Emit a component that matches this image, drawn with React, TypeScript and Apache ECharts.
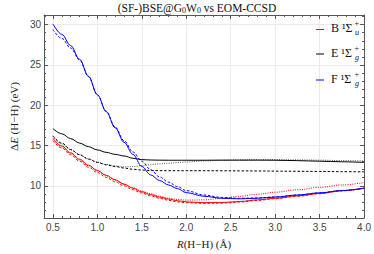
import React, { useEffect, useRef } from "react";
import * as echarts from "echarts";

// bond length grid (Å)
const R = [0.5, 0.6, 0.7, 0.8, 0.9, 1.0, 1.1, 1.2, 1.3, 1.4, 1.5, 1.6, 1.7, 1.8, 1.9, 2.0, 2.2, 2.4, 2.6, 2.8, 3.0, 3.25, 3.5, 3.75, 4.0];

// B 1Σu+
const B_solid = [15.9, 14.95, 14.1, 13.3, 12.55, 11.9, 11.3, 10.75, 10.2, 9.7, 9.25, 8.9, 8.6, 8.35, 8.15, 8.0, 7.9, 7.92, 8.05, 8.25, 8.45, 8.75, 9.05, 9.4, 9.7];
const B_dashed = [15.6, 14.7, 13.85, 13.05, 12.3, 11.65, 11.05, 10.5, 10.0, 9.5, 9.1, 8.75, 8.45, 8.2, 8.0, 7.9, 7.82, 7.85, 7.98, 8.18, 8.4, 8.7, 9.02, 9.37, 9.7];
const B_dotted = [15.8, 14.85, 14.0, 13.2, 12.5, 11.85, 11.25, 10.7, 10.2, 9.75, 9.35, 9.0, 8.7, 8.45, 8.3, 8.22, 8.25, 8.45, 8.7, 8.95, 9.2, 9.5, 9.8, 10.1, 10.4];

// E 1Σg+
const E_solid = [17.1, 16.45, 15.85, 15.3, 14.85, 14.45, 14.15, 13.9, 13.7, 13.42, 13.25, 13.2, 13.18, 13.17, 13.17, 13.17, 13.17, 13.18, 13.18, 13.18, 13.17, 13.12, 13.05, 12.98, 12.9];
const E_dashed = [16.2, 15.3, 14.5, 13.85, 13.3, 12.9, 12.6, 12.4, 12.2, 12.05, 11.95, 11.9, 11.88, 11.87, 11.87, 11.87, 11.87, 11.86, 11.85, 11.84, 11.82, 11.8, 11.78, 11.75, 11.73];
const E_dotted = [16.1, 15.2, 14.45, 13.85, 13.35, 12.95, 12.65, 12.45, 12.35, 12.38, 12.5, 12.62, 12.72, 12.8, 12.88, 12.95, 13.08, 13.17, 13.22, 13.25, 13.25, 13.22, 13.18, 13.13, 13.08];

// F 1Σg+
const F_solid = [30.1, 28.8, 27.4, 25.7, 23.6, 21.3, 19.2, 17.2, 15.4, 13.9, 12.4, 11.35, 10.65, 10.1, 9.65, 9.15, 8.7, 8.45, 8.38, 8.45, 8.6, 8.85, 9.12, 9.4, 9.7];
const F_dashed = [29.4, 28.3, 27.1, 25.6, 23.55, 21.3, 19.25, 17.3, 15.6, 14.2, 13.05, 12.0, 11.1, 10.45, 9.9, 9.4, 8.85, 8.55, 8.45, 8.5, 8.62, 8.85, 9.12, 9.4, 9.7];

// ticks
const xMajor = [0.5, 1.0, 1.5, 2.0, 2.5, 3.0, 3.5, 4.0];
const xMinor = [0.4, 0.6, 0.7, 0.8, 0.9, 1.1, 1.2, 1.3, 1.4, 1.6, 1.7, 1.8, 1.9, 2.1, 2.2, 2.3, 2.4, 2.6, 2.7, 2.8, 2.9, 3.1, 3.2, 3.3, 3.4, 3.6, 3.7, 3.8, 3.9];
const yMajor = [10, 15, 20, 25, 30];
const yMinor = [6, 7, 8, 9, 11, 12, 13, 14, 16, 17, 18, 19, 21, 22, 23, 24, 26, 27, 28, 29, 31];

const X_MIN = 0.4, X_MAX = 4.0, Y_MIN = 6, Y_MAX = 31.2;

const legendNames = ["B", "E", "F"];
const legendSubs = ["u", "g", "g"];
const legendColors = ["#ff0000", "#000000", "#0000ff"];

const SERIF = "Liberation Serif, Times New Roman, serif";
const SANS = "Liberation Sans, Arial, sans-serif";
const FRAME = "#555";

function axis(kind: "x" | "y", position: string, ticks: number[], len: number, opts: any = {}) {
  return {
    type: "value",
    position,
    min: kind === "x" ? X_MIN : Y_MIN,
    max: kind === "x" ? X_MAX : Y_MAX,
    axisLine: { show: !!opts.line, onZero: false, lineStyle: { color: FRAME, width: 1 } },
    axisTick: { show: true, inside: true, length: len, customValues: ticks, lineStyle: { color: FRAME, width: 1 } },
    axisLabel: opts.labels
      ? {
          show: true,
          customValues: ticks,
          margin: kind === "x" ? 4 : 3,
          color: "#444",
          fontFamily: SANS,
          fontSize: 10,
          formatter: (v: number) => (kind === "x" ? v.toFixed(1) : String(v)),
        }
      : { show: false },
    splitLine: opts.split ? { show: true, lineStyle: { color: "#ebebeb", width: 1 } } : { show: false },
    minorTick: { show: false },
    ...opts.extra,
  };
}

function mk(name: string, ys: number[], color: string, type: any, z: number) {
  return {
    name,
    type: "line",
    data: R.map((x, i) => [x, ys[i]]),
    showSymbol: false,
    smooth: 0.35,
    smoothMonotone: "x",
    z,
    lineStyle: { color, width: 1, type },
    itemStyle: { color },
  };
}

export default function App() {
  const ref = useRef<HTMLDivElement>(null);
  useEffect(() => {
    if (!ref.current) return;
    const chart = echarts.init(ref.current, null, { renderer: "svg" });
    const DASH = [2.5, 1.8];
    const DOT = [1, 1.3];

    const graphic: any[] = [];
    const ly = [29.5, 54, 80];
    legendNames.forEach((n, i) => {
      graphic.push({ type: "rect", shape: { x: 316, y: ly[i] - 0.5, width: 8, height: 1 }, style: { fill: legendColors[i] }, z: 10 });
      graphic.push({ type: "text", x: 331, y: ly[i] - 1.5, z: 10, style: { text: n + " \u00b9\u03a3", fontFamily: SERIF, fontSize: 12, fill: "#111", verticalAlign: "middle", align: "left" } });
      graphic.push({ type: "text", x: 354.5, y: ly[i] - 6, z: 10, style: { text: "+", fontFamily: SERIF, fontSize: 8, fill: "#111", verticalAlign: "middle", align: "left" } });
      graphic.push({ type: "text", x: 355, y: ly[i] + 3, z: 10, style: { text: legendSubs[i], fontFamily: SERIF, fontSize: 8, fontStyle: "italic", fill: "#111", verticalAlign: "middle", align: "left" } });
    });

    chart.setOption({
      animation: false,
      backgroundColor: "#ffffff",
      title: {
        text: "{a|(SF-)BSE@G}{s|0}{a|W}{s|0}{a| vs EOM-CCSD}",
        left: 197,
        textAlign: "center",
        top: 0,
        padding: [1, 0, 0, 0],
        textStyle: {
          fontFamily: SERIF,
          fontSize: 11.5,
          fontWeight: "normal",
          color: "#111",
          rich: {
            a: { fontFamily: SERIF, fontSize: 11.5, color: "#111", lineHeight: 13, verticalAlign: "bottom" },
            s: { fontFamily: SERIF, fontSize: 8, color: "#111", lineHeight: 8, verticalAlign: "bottom" },
          },
        },
      },
      grid: { left: 28.3, right: 8, top: 15, bottom: 31, containLabel: false },
      xAxis: [
        axis("x", "bottom", xMajor, 4, {
          line: true,
          labels: true,
          split: true,
          extra: {
            name: "{i|R}(H\u2212H) (\u00c5)",
            nameLocation: "middle",
            nameGap: 20,
            nameTextStyle: { fontFamily: SERIF, fontSize: 11, color: "#222", rich: { i: { fontFamily: SERIF, fontSize: 11, fontStyle: "italic", color: "#222" } } },
          },
        }),
        axis("x", "bottom", xMinor, 2),
        axis("x", "top", xMajor, 4, { line: true }),
        axis("x", "top", xMinor, 2),
      ],
      yAxis: [
        axis("y", "left", yMajor, 4, {
          line: true,
          labels: true,
          split: true,
          extra: {
            name: "\u0394{i|E} (H\u2212H) (eV)",
            nameLocation: "middle",
            nameGap: 17,
            nameTextStyle: { fontFamily: SERIF, fontSize: 11, color: "#222", rich: { i: { fontFamily: SERIF, fontSize: 11, fontStyle: "italic", color: "#222" } } },
          },
        }),
        axis("y", "left", yMinor, 2),
        axis("y", "right", yMajor, 4, { line: true }),
        axis("y", "right", yMinor, 2),
      ],
      series: [
        mk("B 1Σu+ (dotted)", B_dotted, "#ff0000", DOT, 2),
        mk("B 1Σu+ (dashed)", B_dashed, "#ff0000", DASH, 3),
        mk("B 1Σu+", B_solid, "#ff0000", "solid", 4),
        mk("E 1Σg+ (dotted)", E_dotted, "#555555", DOT, 2),
        mk("E 1Σg+ (dashed)", E_dashed, "#000000", DASH, 3),
        mk("E 1Σg+", E_solid, "#000000", "solid", 4),
        mk("F 1Σg+ (dashed)", F_dashed, "#0000ff", DASH, 3),
        mk("F 1Σg+", F_solid, "#0000ff", "solid", 4),
      ],
      graphic,
    });
    return () => chart.dispose();
  }, []);
  return <div ref={ref} style={{ width: 374, height: 254, position: "absolute", left: 0, top: 0 }} />;
}
